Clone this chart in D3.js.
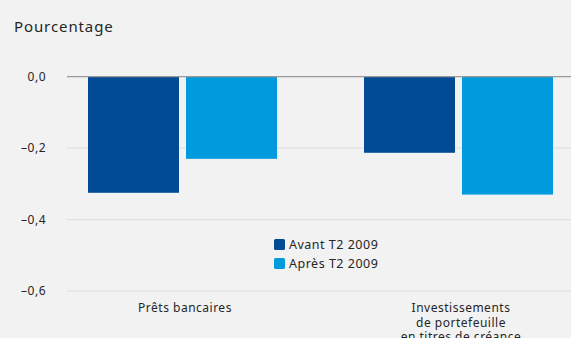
<!DOCTYPE html>
<html>
<head>
<meta charset="utf-8">
<script src="https://cdn.jsdelivr.net/npm/d3@7"></script>
<style>
  html, body { margin: 0; padding: 0; background: #f2f2f2; }
  svg { display: block; }
  text { font-family: "Noto Sans", Lato, sans-serif; fill: #262626; letter-spacing: 0.5px; }
</style>
</head>
<body>
<svg id="chart" width="571" height="338"></svg>
<script>
// Categories (multi-line labels) and the two series
const categories = ["Prêts bancaires", "Investissements de portefeuille en titres de créance"];
const categoryLines = [["Prêts bancaires"], ["Investissements", "de portefeuille", "en titres de créance"]];
const seriesNames = ["Avant T2 2009", "Après T2 2009"];
const avantValues = [-0.325, -0.213];
const apresValues = [-0.23, -0.33];
const yTicks = [0, -0.2, -0.4, -0.6];
const colors = ["#004b93", "#009add"];

const W = 571, H = 338;
const FONT = "'Noto Sans', Lato, sans-serif";
const svg = d3.select("#chart");

const y = d3.scaleLinear().domain([0, -0.6]).range([76.7, 291]);
const x0 = d3.scaleBand().domain(categories).range([44.5, 596.5]).padding(0);
const x1 = d3.scaleBand().domain(seriesNames).range([43.5, 232.5]).paddingInner(0.0714).paddingOuter(0);

const fmt = v => v === 0 ? "0,0" : "\u2013" + d3.format(".1f")(Math.abs(v)).replace(".", ",");

// Title
svg.append("text").attr("x", 14).attr("y", 32).attr("font-size", 15)
  .style("letter-spacing", "0.9px").text("Pourcentage");

// Gridlines
const grid = svg.append("g");
grid.selectAll("line").data(yTicks.filter(d => d !== 0)).join("line")
  .attr("x1", 67).attr("x2", W)
  .attr("y1", d => y(d)).attr("y2", d => y(d))
  .attr("stroke", "#dcdcdc").attr("stroke-width", 1);

// Y axis labels
const yAxis = d3.axisLeft(y).tickValues(yTicks).tickFormat(fmt).tickSize(0).tickPadding(0);
const yg = svg.append("g").attr("transform", "translate(46,0)").call(yAxis);
yg.select(".domain").remove();
yg.selectAll("text").attr("font-size", 12).attr("fill", "#262626")
  .attr("font-family", FONT);

// Bars
const data = categories.map((c, i) => ({ cat: c, vals: [avantValues[i], apresValues[i]] }));
const groups = svg.append("g").selectAll("g").data(data).join("g")
  .attr("transform", d => `translate(${x0(d.cat)},0)`);
groups.selectAll("rect").data(d => d.vals.map((v, j) => ({ s: seriesNames[j], v, j })))
  .join("rect")
  .attr("x", d => x1(d.s))
  .attr("width", x1.bandwidth())
  .attr("y", y(0))
  .attr("height", d => y(d.v) - y(0))
  .attr("fill", d => colors[d.j]);

// Zero line
svg.append("line").attr("x1", 67).attr("x2", W).attr("y1", y(0)).attr("y2", y(0))
  .attr("stroke", "#9a9a9a").attr("stroke-width", 1.2);

// Category labels
const catG = svg.append("g").selectAll("text").data(categories).join("text")
  .attr("text-anchor", "middle")
  .attr("font-size", 12)
  .attr("x", (d, i) => x0(d) + x0.bandwidth() / 2 + 2.5)
  .attr("y", 312);
catG.selectAll("tspan").data((d, i) => categoryLines[i]).join("tspan")
  .attr("x", function () { return d3.select(this.parentNode).attr("x"); })
  .attr("dy", (d, k) => k === 0 ? 0 : 14.5)
  .text(d => d);

// Legend
const leg = svg.append("g").attr("transform", "translate(274,239)");
const li = leg.selectAll("g").data(seriesNames).join("g")
  .attr("transform", (d, i) => `translate(0,${i * 19})`);
li.append("rect").attr("width", 11).attr("height", 11).attr("rx", 1.5)
  .attr("fill", (d, i) => colors[i]);
li.append("text").attr("x", 15).attr("y", 10).attr("font-size", 12.5).text(d => d);
</script>
</body>
</html>
